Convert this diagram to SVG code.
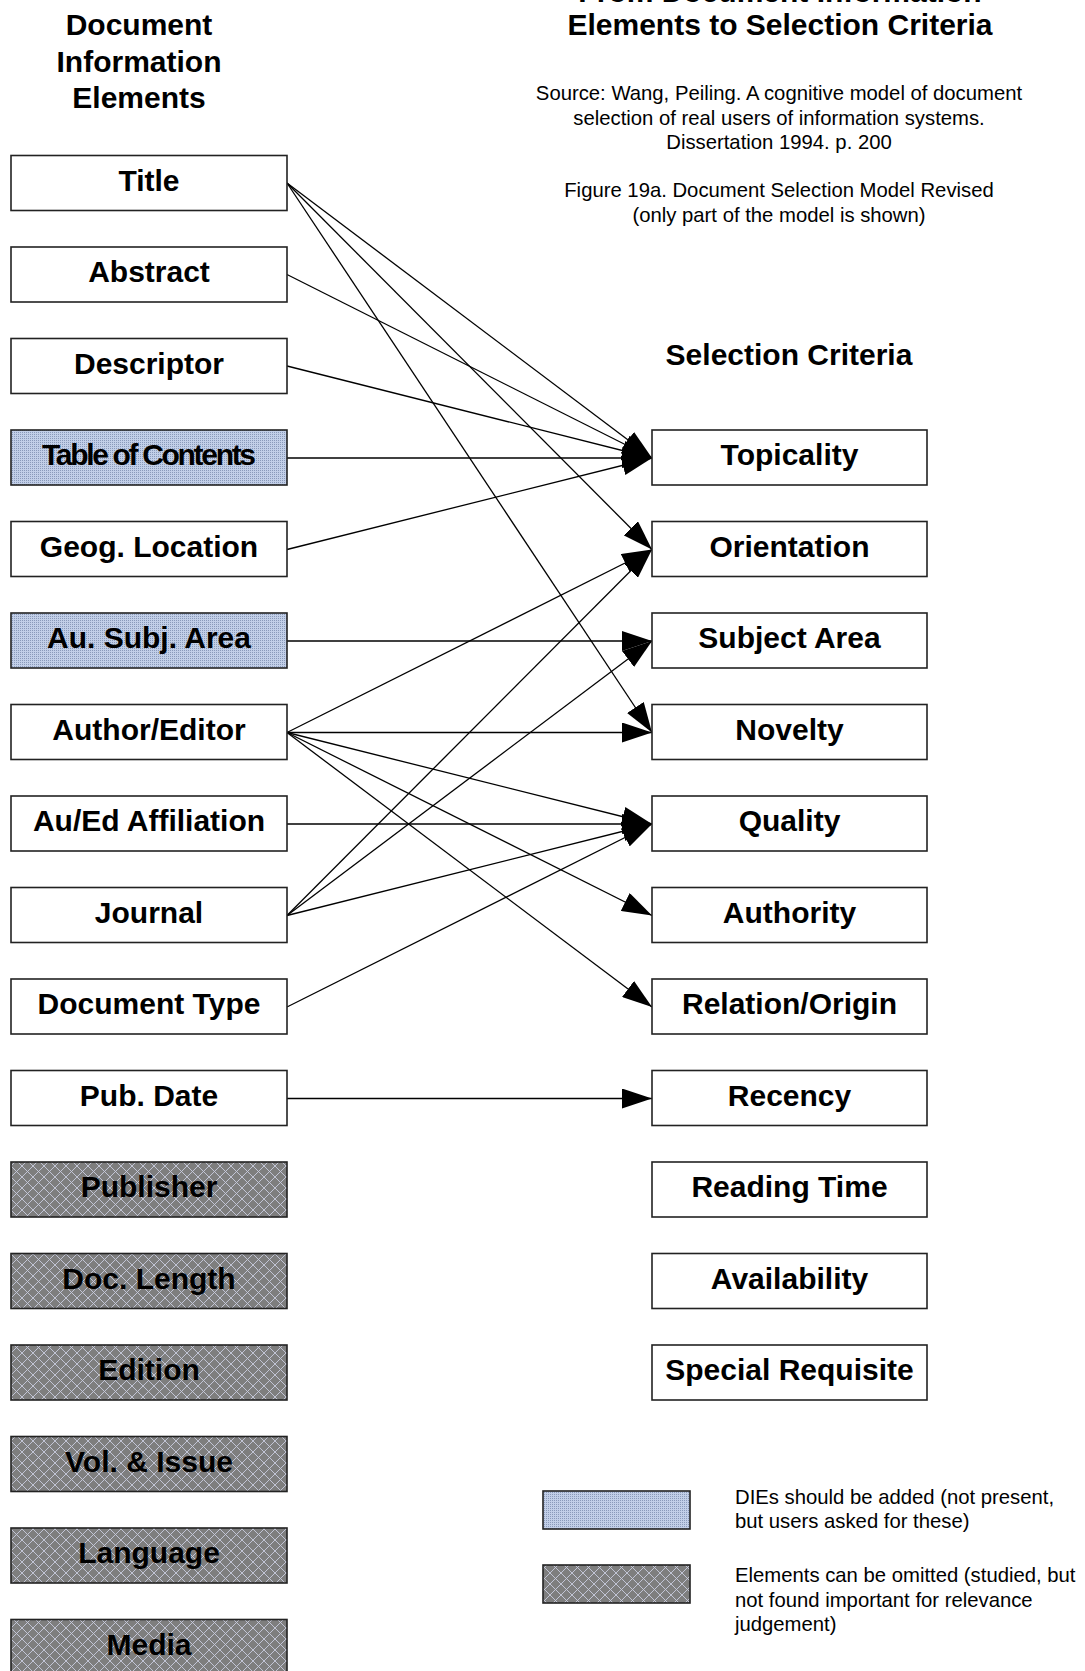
<svg xmlns="http://www.w3.org/2000/svg" width="1085" height="1671" viewBox="0 0 1085 1671">
  <style>
    .hdr { font-family: "Liberation Sans", Arial, sans-serif; font-weight: bold; font-size: 30px; fill: #000; text-anchor: middle; }
    .note { font-family: "Liberation Sans", Arial, sans-serif; font-size: 20.3px; fill: #000; text-anchor: middle; }
    .legend { font-family: "Liberation Sans", Arial, sans-serif; font-size: 20.3px; fill: #000; }
    .box { stroke: #222; stroke-width: 1.6; }
    .plain { fill: #fff; }
    .added { fill: url(#dots); }
    .omit { fill: url(#hatch); }
    .lbl { font-family: "Liberation Sans", Arial, sans-serif; font-weight: bold; font-size: 30px; fill: #000; text-anchor: middle; }
    .edge { stroke: #000; stroke-width: 1.3; fill: none; marker-end: url(#head); }
  </style>
  <defs>
    <!-- fine blue dot screen: DIEs that should be added -->
    <pattern id="dots" width="2" height="2" patternUnits="userSpaceOnUse">
      <rect width="2" height="2" fill="#c2cfe8"/>
      <rect width="1" height="1" fill="#8a9aba"/>
    </pattern>
    <!-- grey diamond lattice: elements that can be omitted -->
    <pattern id="hatch" width="11" height="11" patternUnits="userSpaceOnUse">
      <rect width="11" height="11" fill="#7e7e7e"/>
      <path d="M0,0 L11,11 M11,0 L0,11" stroke="#c8ccde" stroke-width="0.9"/>
    </pattern>
    <marker id="head" markerUnits="userSpaceOnUse" markerWidth="30" markerHeight="20" refX="30" refY="10" orient="auto">
      <path d="M0,0 L30,10 L0,20 z" fill="#000"/>
    </marker>
  </defs>
  <rect width="1085" height="1671" fill="#fff"/>

  <!-- headings -->
  <g id="heading-left">
    <text class="hdr" x="139" y="35">Document</text>
    <text class="hdr" x="139" y="72">Information</text>
    <text class="hdr" x="139" y="108">Elements</text>
  </g>
  <g id="heading-right">
    <text class="hdr" x="780" y="2">From Document Information</text>
    <text class="hdr" x="780" y="35">Elements to Selection Criteria</text>
  </g>
  <g id="source-note">
    <text class="note" x="779" y="100">Source: Wang, Peiling. A cognitive model of document</text>
    <text class="note" x="779" y="124.5">selection of real users of information systems.</text>
    <text class="note" x="779" y="148.5">Dissertation 1994. p. 200</text>
    <text class="note" x="779" y="197">Figure 19a. Document Selection Model Revised</text>
    <text class="note" x="779" y="221.5">(only part of the model is shown)</text>
  </g>
  <g id="heading-criteria">
    <text class="hdr" x="789" y="365">Selection Criteria</text>
  </g>

  <!-- connectors: left box right edge (x=287) to criterion left edge (x=652) -->
  <g id="connectors">
    <line class="edge" x1="287" y1="183" x2="652" y2="458"/>
    <line class="edge" x1="287" y1="183" x2="652" y2="549.5"/>
    <line class="edge" x1="287" y1="183" x2="652" y2="732.5"/>
    <line class="edge" x1="287" y1="274.5" x2="652" y2="458"/>
    <line class="edge" x1="287" y1="366" x2="652" y2="458"/>
    <line class="edge" x1="287" y1="458" x2="652" y2="458"/>
    <line class="edge" x1="287" y1="549.5" x2="652" y2="458"/>
    <line class="edge" x1="287" y1="641" x2="652" y2="641"/>
    <line class="edge" x1="287" y1="732.5" x2="652" y2="549.5"/>
    <line class="edge" x1="287" y1="732.5" x2="652" y2="732.5"/>
    <line class="edge" x1="287" y1="732.5" x2="652" y2="824"/>
    <line class="edge" x1="287" y1="732.5" x2="652" y2="915.5"/>
    <line class="edge" x1="287" y1="732.5" x2="652" y2="1007"/>
    <line class="edge" x1="287" y1="824" x2="652" y2="824"/>
    <line class="edge" x1="287" y1="915.5" x2="652" y2="549.5"/>
    <line class="edge" x1="287" y1="915.5" x2="652" y2="641"/>
    <line class="edge" x1="287" y1="915.5" x2="652" y2="824"/>
    <line class="edge" x1="287" y1="1007" x2="652" y2="824"/>
    <line class="edge" x1="287" y1="1098.5" x2="652" y2="1098.5"/>
  </g>

  <!-- document information elements -->
  <g id="die-title"><rect class="box plain" x="11" y="155.5" width="276" height="55"/><text class="lbl" x="149" y="190.5">Title</text></g>
  <g id="die-abstract"><rect class="box plain" x="11" y="247" width="276" height="55"/><text class="lbl" x="149" y="282">Abstract</text></g>
  <g id="die-descriptor"><rect class="box plain" x="11" y="338.5" width="276" height="55"/><text class="lbl" x="149" y="373.5">Descriptor</text></g>
  <g id="die-toc"><rect class="box added" x="11" y="430" width="276" height="55"/><text class="lbl" x="149" y="465" textLength="214" lengthAdjust="spacing">Table of Contents</text></g>
  <g id="die-geog"><rect class="box plain" x="11" y="521.5" width="276" height="55"/><text class="lbl" x="149" y="556.5">Geog. Location</text></g>
  <g id="die-ausubj"><rect class="box added" x="11" y="613" width="276" height="55"/><text class="lbl" x="149" y="648">Au. Subj. Area</text></g>
  <g id="die-author"><rect class="box plain" x="11" y="704.5" width="276" height="55"/><text class="lbl" x="149" y="739.5">Author/Editor</text></g>
  <g id="die-affiliation"><rect class="box plain" x="11" y="796" width="276" height="55"/><text class="lbl" x="149" y="831">Au/Ed Affiliation</text></g>
  <g id="die-journal"><rect class="box plain" x="11" y="887.5" width="276" height="55"/><text class="lbl" x="149" y="922.5">Journal</text></g>
  <g id="die-doctype"><rect class="box plain" x="11" y="979" width="276" height="55"/><text class="lbl" x="149" y="1014">Document Type</text></g>
  <g id="die-pubdate"><rect class="box plain" x="11" y="1070.5" width="276" height="55"/><text class="lbl" x="149" y="1105.5">Pub. Date</text></g>
  <g id="die-publisher"><rect class="box omit" x="11" y="1162" width="276" height="55"/><text class="lbl" x="149" y="1197">Publisher</text></g>
  <g id="die-doclength"><rect class="box omit" x="11" y="1253.5" width="276" height="55"/><text class="lbl" x="149" y="1288.5">Doc. Length</text></g>
  <g id="die-edition"><rect class="box omit" x="11" y="1345" width="276" height="55"/><text class="lbl" x="149" y="1380">Edition</text></g>
  <g id="die-volissue"><rect class="box omit" x="11" y="1436.5" width="276" height="55"/><text class="lbl" x="149" y="1471.5">Vol. &amp; Issue</text></g>
  <g id="die-language"><rect class="box omit" x="11" y="1528" width="276" height="55"/><text class="lbl" x="149" y="1563">Language</text></g>
  <g id="die-media"><rect class="box omit" x="11" y="1619.5" width="276" height="55"/><text class="lbl" x="149" y="1654.5">Media</text></g>

  <!-- selection criteria -->
  <g id="sc-topicality"><rect class="box plain" x="652" y="430" width="275" height="55"/><text class="lbl" x="789.5" y="465">Topicality</text></g>
  <g id="sc-orientation"><rect class="box plain" x="652" y="521.5" width="275" height="55"/><text class="lbl" x="789.5" y="556.5">Orientation</text></g>
  <g id="sc-subjectarea"><rect class="box plain" x="652" y="613" width="275" height="55"/><text class="lbl" x="789.5" y="648">Subject Area</text></g>
  <g id="sc-novelty"><rect class="box plain" x="652" y="704.5" width="275" height="55"/><text class="lbl" x="789.5" y="739.5">Novelty</text></g>
  <g id="sc-quality"><rect class="box plain" x="652" y="796" width="275" height="55"/><text class="lbl" x="789.5" y="831">Quality</text></g>
  <g id="sc-authority"><rect class="box plain" x="652" y="887.5" width="275" height="55"/><text class="lbl" x="789.5" y="922.5">Authority</text></g>
  <g id="sc-relation"><rect class="box plain" x="652" y="979" width="275" height="55"/><text class="lbl" x="789.5" y="1014">Relation/Origin</text></g>
  <g id="sc-recency"><rect class="box plain" x="652" y="1070.5" width="275" height="55"/><text class="lbl" x="789.5" y="1105.5">Recency</text></g>
  <g id="sc-readingtime"><rect class="box plain" x="652" y="1162" width="275" height="55"/><text class="lbl" x="789.5" y="1197">Reading Time</text></g>
  <g id="sc-availability"><rect class="box plain" x="652" y="1253.5" width="275" height="55"/><text class="lbl" x="789.5" y="1288.5">Availability</text></g>
  <g id="sc-special"><rect class="box plain" x="652" y="1345" width="275" height="55"/><text class="lbl" x="789.5" y="1380">Special Requisite</text></g>

  <!-- key -->
  <g id="legend-added">
    <rect class="box added" x="543" y="1491" width="147" height="38"/>
    <text class="legend" x="735" y="1504">DIEs should be added (not present,</text>
    <text class="legend" x="735" y="1528">but users asked for these)</text>
  </g>
  <g id="legend-omit">
    <rect class="box omit" x="543" y="1565" width="147" height="38"/>
    <text class="legend" x="735" y="1582">Elements can be omitted (studied, but</text>
    <text class="legend" x="735" y="1606.5">not found important for relevance</text>
    <text class="legend" x="735" y="1631">judgement)</text>
  </g>
</svg>
